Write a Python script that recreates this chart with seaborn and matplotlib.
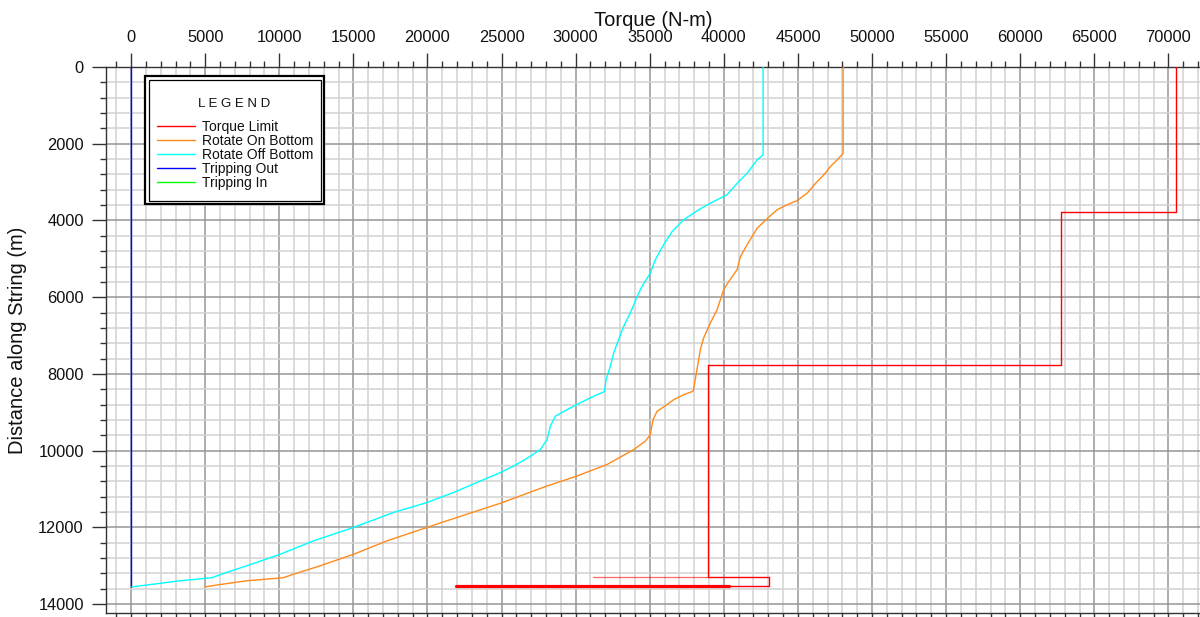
import matplotlib
matplotlib.use("Agg")
import matplotlib.pyplot as plt
from matplotlib.lines import Line2D
from matplotlib.patches import Rectangle
from matplotlib.ticker import MultipleLocator, FixedLocator
import pandas as pd
import seaborn as sns

# ---- Torque along the drill string (torque in N-m, distance in m) ----
off_bottom_torque = [42650, 42650, 42250, 41570, 40900, 40220, 39090, 38300, 37290, 36510,
                     35940, 35380, 35040, 34480, 34150, 33690, 33240, 32900, 32570, 32340,
                     32060, 31940, 31220, 30320, 29420, 28630, 28290, 28070, 27620, 26720,
                     25810, 24920, 23570, 21760, 19970, 17710, 15010, 12310, 10060, 7810,
                     6460, 5450, 3310, 50]
off_bottom_depth = [0, 2290, 2420, 2770, 3030, 3330, 3550, 3720, 3980, 4290,
                    4630, 5020, 5370, 5720, 5980, 6410, 6760, 7100, 7450, 7800,
                    8140, 8460, 8580, 8750, 8930, 9100, 9360, 9710, 9970, 10200,
                    10400, 10570, 10790, 11090, 11350, 11610, 12000, 12350, 12700, 13000,
                    13170, 13310, 13390, 13550]

on_bottom_torque = [48050, 48050, 47650, 47200, 46750, 46190, 45620, 44950, 44270, 43600,
                    43040, 42250, 41910, 41570, 41120, 40900, 40330, 39990, 39550, 39090,
                    38640, 38420, 38190, 37930, 37290, 36620, 35940, 35500, 35220, 35040,
                    34710, 33920, 32120, 30090, 28070, 24920, 21990, 19970, 17270, 15010,
                    12760, 10960, 10280, 7810, 5790, 5000]
on_bottom_depth = [0, 2250, 2420, 2590, 2810, 3030, 3290, 3480, 3590, 3720,
                   3910, 4200, 4420, 4630, 4940, 5280, 5590, 5800, 6320, 6670,
                   7060, 7360, 7880, 8450, 8540, 8670, 8860, 8970, 9190, 9580,
                   9750, 9970, 10360, 10660, 10920, 11370, 11740, 12000, 12350, 12700,
                   13000, 13220, 13310, 13390, 13500, 13550]

trip_out_torque = [0, 0]
trip_out_depth = [0, 13550]

trip_in_torque = [0, 0]
trip_in_depth = [0, 13550]

limit_torque = [70540, 70540, 62780, 62780, 38940, 38940, 43040, 43040, 40330]
limit_depth = [0, 3780, 3780, 7770, 7770, 13290, 13290, 13520, 13520]
# short limit segments near the bit
limit_low_torque = [21940, 40330]
limit_low_depth = [13520, 13520]
limit_mid_torque = [31150, 38940]
limit_mid_depth = [13290, 13290]

labels = ["Torque Limit", "Rotate On Bottom", "Rotate Off Bottom", "Tripping Out", "Tripping In"]
colors = ["#ff0000", "#ff8a1c", "#00ffff", "#0000ff", "#00ff00"]

sns.set_theme(style="white")
plt.rcParams["font.family"] = ["Liberation Sans", "DejaVu Sans"]

W, H = 1200, 617
fig = plt.figure(figsize=(W / 100, H / 100), dpi=100)
ax = fig.add_axes([106 / W, 1 - 613 / H, (W - 106) / W, (613 - 67) / H])

ax.set_xlim(-1690, 72130)
ax.set_ylim(14230, 0)

ax.xaxis.set_major_locator(FixedLocator(list(range(0, 70001, 5000))))
ax.xaxis.set_minor_locator(MultipleLocator(1000))
ax.yaxis.set_major_locator(MultipleLocator(2000))
ax.yaxis.set_minor_locator(MultipleLocator(400))

ax.grid(which="minor", color="#d2d2d2", lw=1.1, zorder=0)
ax.grid(which="major", color="#969696", lw=1.1, zorder=0)
ax.set_axisbelow(True)

lw = 1.0
sns.lineplot(x=trip_in_torque, y=trip_in_depth, sort=False, estimator=None,
             color=colors[4], lw=0.5, ax=ax, zorder=2)
sns.lineplot(x=trip_out_torque, y=trip_out_depth, sort=False, estimator=None,
             color=colors[3], lw=lw, ax=ax, zorder=3)
sns.lineplot(x=limit_torque, y=limit_depth, sort=False, estimator=None,
             color=colors[0], lw=lw, ax=ax, zorder=3)
sns.lineplot(x=limit_low_torque, y=limit_low_depth, sort=False, estimator=None,
             color=colors[0], lw=2.3, ax=ax, zorder=3)
sns.lineplot(x=limit_mid_torque, y=limit_mid_depth, sort=False, estimator=None,
             color=colors[0], lw=0.9, alpha=0.6, ax=ax, zorder=3)
sns.lineplot(x=on_bottom_torque, y=on_bottom_depth, sort=False, estimator=None,
             color=colors[1], lw=lw, ax=ax, zorder=3)
sns.lineplot(x=off_bottom_torque, y=off_bottom_depth, sort=False, estimator=None,
             color=colors[2], lw=lw, ax=ax, zorder=3)

# axes frame and ticks
for side in ["top", "left", "bottom"]:
    ax.spines[side].set_visible(True)
    ax.spines[side].set_color("#333333")
    ax.spines[side].set_linewidth(1.0)
ax.spines["right"].set_visible(False)

ax.tick_params(axis="x", which="both", top=True, bottom=True, labeltop=True,
               labelbottom=False, direction="out", color="#333333")
ax.tick_params(axis="y", which="both", left=True, right=False, direction="out",
               color="#333333")
ax.tick_params(which="major", length=10, width=1.0, labelsize=11.8, pad=6,
               labelcolor="#111111")
ax.tick_params(which="minor", length=4, width=1.0)

ax.xaxis.set_label_position("top")
ax.set_xlabel("Torque (N-m)", fontsize=14.5, labelpad=3, color="#111111")
ax.set_ylabel("Distance along String (m)", fontsize=14.5, labelpad=8, color="#111111")

# legend panel with a double border
tf = fig.transFigure
outer = Rectangle((145 / W, 1 - 204 / H), (324 - 145) / W, (204 - 76) / H, transform=tf,
                  facecolor="white", edgecolor="black", lw=1.6, zorder=4, clip_on=False)
inner = Rectangle((148.5 / W, 1 - 200.5 / H), (320.5 - 148.5) / W, (200.5 - 79.5) / H,
                  transform=tf, facecolor="none", edgecolor="black", lw=0.9, zorder=4,
                  clip_on=False)
ax.add_patch(outer)
ax.add_patch(inner)
ax.text(234 / W, 1 - 104 / H, "L E G E N D", transform=tf, ha="center", va="center",
        fontsize=9.5, color="#111111", zorder=6)

handles = [Line2D([], [], color=c, lw=1.0) for c in colors]
leg = ax.legend(handles, labels, loc="upper left", bbox_to_anchor=(157 / W, 1 - 120 / H),
                bbox_transform=tf, frameon=False, fontsize=10, handlelength=2.75,
                handletextpad=0.5, labelspacing=0.0, borderpad=0, borderaxespad=0)
for t in leg.get_texts():
    t.set_color("#111111")
leg.set_zorder(6)

fig.savefig("out.png", dpi=100)
